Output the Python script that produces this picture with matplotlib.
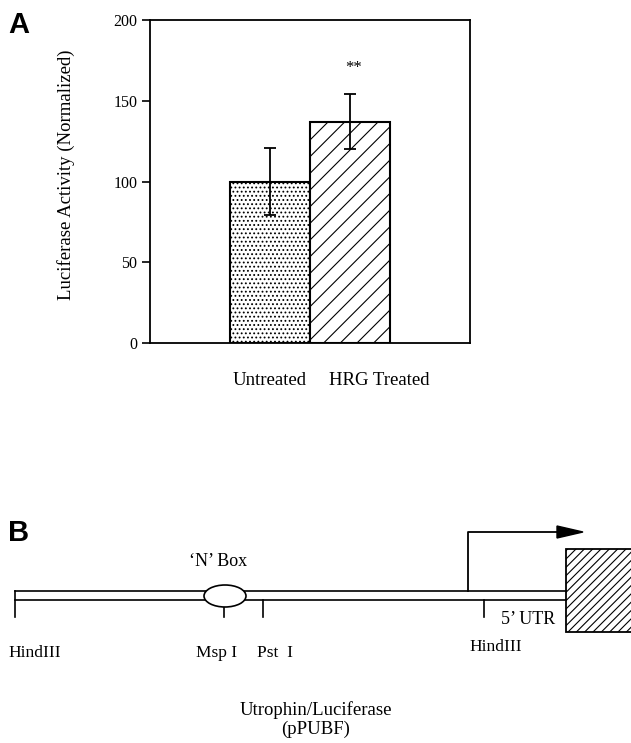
import matplotlib.pyplot as plt
from matplotlib.patches import Ellipse, Rectangle, Polygon

plt.rcParams['font.family'] = ['Liberation Serif', 'DejaVu Serif']
plt.rcParams['hatch.linewidth'] = 0.8

# panel A data
categories = ['Untreated', 'HRG Treated']
means = [100, 137]
errors = [21, 17]
bar_x = [1.5, 2.5]
label_x = [1.49, 2.86]
y_ticks = [0, 50, 100, 150, 200]

# panel B construct (drawing units = pixels of the figure)
site_names = ['HindIII', 'Msp I', 'Pst  I', 'HindIII']
site_x = [15, 224, 263, 484]
site_label_x = [35, 217, 275, 496]
site_label_y = [653, 653, 653, 647]

fig = plt.figure(figsize=(6.31, 7.43), dpi=100)

#%% panel A
ax = fig.add_axes([150/631, 1 - 343/743, 320/631, 323/743])
ax.bar(bar_x, means, width=1.0, color='white', edgecolor='black',
       linewidth=1.5, hatch=['....', '//'], zorder=2)
ax.errorbar(bar_x, means, yerr=errors, fmt='none', ecolor='black',
            elinewidth=1.3, capsize=4.5, capthick=1.3, zorder=3)
ax.set_xlim(0, 4)
ax.set_ylim(0, 200)
ax.set_yticks(y_ticks)
ax.set_xticks(label_x, categories)
ax.tick_params(axis='x', length=0, pad=21, labelsize=13.5)
ax.tick_params(axis='y', direction='out', length=6, width=1.2, pad=3, labelsize=11.5)
for s in ax.spines.values():
    s.set_linewidth(1.3)
ax.set_ylabel('Luciferase Activity (Normalized)', fontsize=13.5)
ax.yaxis.set_label_coords(-0.235, 0.52)
ax.text(2.55, 170, '**', ha='center', va='center', fontsize=12)

fig.text(8/631, 1 - 33/743, 'A', family='Liberation Sans', fontweight='bold', fontsize=21)
fig.text(8/631, 1 - 541/743, 'B', family='Liberation Sans', fontweight='bold', fontsize=21)

#%% panel B
axb = fig.add_axes([0, 0, 1, 1])
axb.set_xlim(0, 631)
axb.set_ylim(743, 0)
axb.axis('off')

top, bot = 591, 600
start, end = site_x[0], 566
axb.plot([start, end], [top, top], color='black', lw=1.2)
axb.plot([start, end], [bot, bot], color='black', lw=1.2)
axb.plot([start, start], [top, 617], color='black', lw=1.2)
for x in site_x[1:]:
    axb.plot([x, x], [bot, 617], color='black', lw=1.2)
axb.add_patch(Ellipse((225, 596), 42, 22, facecolor='white', edgecolor='black', lw=1.2, zorder=3))
axb.text(218, 562, '\u2018N\u2019 Box', ha='center', va='center', fontsize=13)

for name, lx, ly in zip(site_names, site_label_x, site_label_y):
    axb.text(lx, ly, name, ha='center', va='center', fontsize=12.5)
axb.text(528, 619, '5\u2019 UTR', ha='center', va='center', fontsize=13)

# transcription start arrow
axb.plot([468, 468, 560], [top, 532, 532], color='black', lw=1.3)
axb.add_patch(Polygon([[557, 526], [583, 532], [557, 538]], closed=True,
                      facecolor='black', edgecolor='black'))

# luciferase box
axb.add_patch(Rectangle((566, 549), 70, 83, facecolor='white', edgecolor='black',
                        lw=1.3, hatch='////', clip_on=True))

axb.text(316, 710, 'Utrophin/Luciferase', ha='center', va='center', fontsize=13.5)
axb.text(316, 729, '(pPUBF)', ha='center', va='center', fontsize=13.5)

fig.savefig('out.png', dpi=100)
